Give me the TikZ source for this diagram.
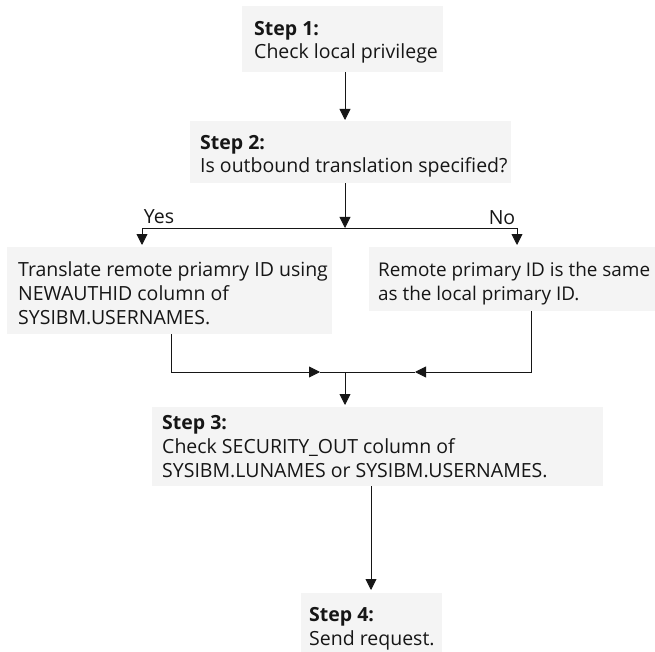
\documentclass[tikz,border=0pt]{standalone}
\usepackage{fontspec}
\setmainfont{Open Sans}
\usetikzlibrary{arrows.meta}
\definecolor{ink}{HTML}{161616}
\definecolor{boxgray}{HTML}{F4F4F4}
\tikzset{
  box/.style={fill=boxgray, draw=none, inner sep=0pt, anchor=north west},
  txt/.style={anchor=base west, align=left, inner sep=0pt, text=ink,
              font=\fontsize{19.5}{23.8}\selectfont},
  lbl/.style={anchor=base, inner sep=0pt, text=ink, font=\fontsize{19.5}{24}\selectfont},
  conn/.style={draw=ink, line width=0.9pt},
  arr/.style={conn, -{Triangle[width=11pt,length=11pt]}},
}
\begin{document}
\begin{tikzpicture}[x=1pt,y=-1pt]
\useasboundingbox (0,0) rectangle (655,652);
\clip (0,0) rectangle (655,652);
% boxes
\node[box, minimum width=201pt, minimum height=66pt] (s1) at (242,6) {};
\node[box, minimum width=321pt, minimum height=62pt] (s2) at (190,121) {};
\node[box, minimum width=325pt, minimum height=87pt] (ya) at (7,247) {};
\node[box, minimum width=300pt, minimum height=64pt] (na) at (369,247) {};
\node[box, minimum width=451pt, minimum height=79pt] (s3) at (152,407) {};
\node[box, minimum width=141pt, minimum height=59pt] (s4) at (301,593) {};
% texts (anchored at the baseline of their last line)
\node[txt] (t1) at (254,59) {\textbf{Step 1:}\\Check local privilege};
\node[txt] (t2) at (200,173) {\textbf{Step 2:}\\Is outbound translation specified?};
\node[txt] (ty) at (18,324) {Translate remote priamry ID using\\NEWAUTHID column of\\SYSIBM.USERNAMES.};
\node[txt, font=\fontsize{18.9}{23.8}\selectfont] (tn) at (378,300) {Remote primary ID is the same\\as the local primary ID.};
\node[txt] (t3) at (162,477) {\textbf{Step 3:}\\Check SECURITY\_OUT column of\\SYSIBM.LUNAMES or SYSIBM.USERNAMES.};
\node[txt] (t4) at (309,645) {\textbf{Step 4:}\\Send request.};
% junctions
\coordinate (j1) at (345,228);
\coordinate (yx) at (142,228);
\coordinate (nx) at (517,228);
\coordinate (lx) at (171,372);
\coordinate (rx) at (531,372);
\coordinate (la) at (320,372);
\coordinate (ra) at (415,372);
\coordinate (j2) at (345,372);
\coordinate (bx) at (371,500);
% labels
\node[lbl] (yes) at (159,223) {Yes};
\node[lbl] (no) at (502,225) {No};
% connectors
\draw[arr, shorten >=1pt] (s1.south -| j1) -- (s2.north -| j1);
\draw[arr] (s2.south -| j1) -- (j1);
\draw[arr, shorten >=2pt] (j1) -- (yx) -- (yx |- ya.north);
\draw[arr, shorten >=2pt] (j1) -- (nx) -- (nx |- na.north);
\draw[arr] (ya.south -| lx) |- (la);
\draw[conn] (la) -- (j2);
\draw[arr] (na.south -| rx) |- (ra);
\draw[conn] (ra) -- (j2);
\draw[arr, shorten >=2pt] (j2) -- (s3.north -| j2);
\draw[arr, shorten >=3pt] (s3.south -| bx) -- (s4.north -| bx);
\end{tikzpicture}
\end{document}
